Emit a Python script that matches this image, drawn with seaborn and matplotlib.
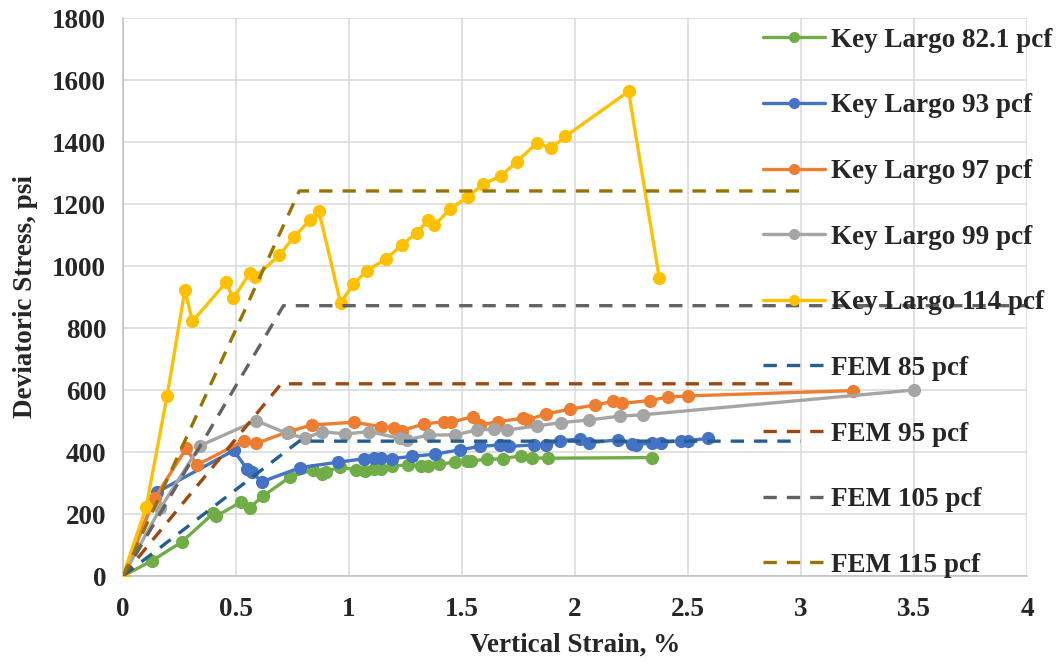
import numpy as np
import pandas as pd
import matplotlib
matplotlib.use("Agg")
import matplotlib.pyplot as plt
from matplotlib.ticker import FuncFormatter, MultipleLocator
import seaborn as sns

# ---------------- data ----------------
kl82_x = [0, 0.13, 0.26, 0.40, 0.41, 0.52, 0.56, 0.62, 0.74, 0.84, 0.88, 0.90, 0.96,
          1.03, 1.07, 1.11, 1.14, 1.19, 1.26, 1.32, 1.35, 1.40, 1.47, 1.52, 1.54,
          1.61, 1.68, 1.76, 1.81, 1.88, 2.34]
kl82_y = [0, 50, 110, 202, 192, 238, 220, 258, 320, 342, 328, 337, 352,
          342, 340, 344, 344, 355, 358, 356, 356, 360, 368, 370, 372,
          376, 378, 388, 381, 380, 382]

kl93_x = [0, 0.15, 0.49, 0.55, 0.57, 0.615, 0.785, 0.95, 1.065, 1.11, 1.14, 1.19,
          1.28, 1.38, 1.49, 1.58, 1.67, 1.71, 1.82, 1.87, 1.935, 2.02, 2.06, 2.19,
          2.25, 2.27, 2.34, 2.38, 2.47, 2.50, 2.59]
kl93_y = [0, 270, 405, 344, 335, 304, 350, 367, 378, 380, 382, 379,
          386, 393, 407, 418, 423, 418, 423, 423, 437, 441, 430, 439,
          426, 423, 430, 430, 437, 437, 444]

kl97_x = [0, 0.14, 0.28, 0.327, 0.534, 0.59, 0.733, 0.836, 1.02, 1.14, 1.20, 1.234,
          1.33, 1.42, 1.45, 1.55, 1.58, 1.66, 1.77, 1.79, 1.87, 1.98, 2.09, 2.17,
          2.21, 2.33, 2.41, 2.50, 3.23]
kl97_y = [0, 251, 412, 358, 436, 428, 466, 487, 496, 482, 479, 469,
          490, 498, 496, 514, 487, 498, 509, 503, 523, 538, 552, 563,
          557, 566, 577, 581, 598]

kl99_x = [0, 0.165, 0.34, 0.59, 0.725, 0.807, 0.88, 0.984, 1.087, 1.227, 1.256,
          1.352, 1.47, 1.565, 1.64, 1.70, 1.83, 1.94, 2.06, 2.20, 2.30, 3.50]
kl99_y = [0, 218, 420, 501, 460, 444, 466, 458, 466, 444, 439,
          455, 455, 471, 473, 471, 484, 495, 503, 516, 520, 600]

kl114_x = [0, 0.103, 0.195, 0.274, 0.307, 0.456, 0.488, 0.563, 0.584, 0.69, 0.757,
           0.829, 0.867, 0.963, 1.018, 1.081, 1.164, 1.235, 1.30, 1.35, 1.377,
           1.448, 1.527, 1.594, 1.673, 1.744, 1.83, 1.894, 1.957, 2.237, 2.373]
kl114_y = [0, 224, 581, 923, 821, 947, 896, 979, 964, 1034, 1094,
           1149, 1176, 880, 942, 985, 1023, 1068, 1108, 1147, 1131,
           1184, 1224, 1264, 1291, 1337, 1396, 1380, 1418, 1563, 961]

fem85_x = [0, 0.78, 3.0]
fem85_y = [0, 435, 435]
fem95_x = [0, 0.70, 3.0]
fem95_y = [0, 620, 620]
fem105_x = [0, 0.71, 4.0]
fem105_y = [0, 872, 872]
fem115_x = [0, 0.78, 3.0]
fem115_y = [0, 1242, 1242]

measured = [
    ("Key Largo 82.1 pcf", kl82_x, kl82_y, "#70AD47"),
    ("Key Largo 93 pcf", kl93_x, kl93_y, "#4472C4"),
    ("Key Largo 97 pcf", kl97_x, kl97_y, "#ED7D31"),
    ("Key Largo 99 pcf", kl99_x, kl99_y, "#A5A5A5"),
    ("Key Largo 114 pcf", kl114_x, kl114_y, "#FFC000"),
]
fem = [
    ("FEM 85 pcf", fem85_x, fem85_y, "#255E91"),
    ("FEM 95 pcf", fem95_x, fem95_y, "#9E480E"),
    ("FEM 105 pcf", fem105_x, fem105_y, "#636363"),
    ("FEM 115 pcf", fem115_x, fem115_y, "#997300"),
]

# ---------------- style ----------------
sns.set_theme(style="whitegrid")
plt.rcParams["font.family"] = ["Liberation Serif", "DejaVu Serif"]
plt.rcParams["font.weight"] = "bold"

W, H = 1060, 664
fig = plt.figure(figsize=(W / 100, H / 100), dpi=100)
ax = fig.add_axes([123 / W, 1 - 576 / H, (1027 - 123) / W, (576 - 18) / H])

for name, xs, ys, col in measured:
    df = pd.DataFrame({"x": xs, "y": ys})
    sns.lineplot(data=df, x="x", y="y", ax=ax, sort=False, estimator=None,
                 color=col, linewidth=2.4, marker="o", markersize=9.5,
                 markeredgewidth=0, label=name, zorder=3)

for name, xs, ys, col in fem:
    df = pd.DataFrame({"x": xs, "y": ys})
    sns.lineplot(data=df, x="x", y="y", ax=ax, sort=False, estimator=None,
                 color=col, linewidth=2.4, label=name, zorder=4)
    ax.lines[-1].set_dashes((4.0, 3.0))

ax.set_xlim(0, 4)
ax.set_ylim(0, 1800)
ax.xaxis.set_major_locator(MultipleLocator(0.5))
ax.yaxis.set_major_locator(MultipleLocator(200))
ax.xaxis.set_major_formatter(FuncFormatter(lambda v, p: f"{v:g}"))
ax.yaxis.set_major_formatter(FuncFormatter(lambda v, p: f"{v:g}"))

ax.grid(True, color="#D9D9D9", linewidth=1.1)
ax.set_axisbelow(True)
for side in ["top", "right"]:
    ax.spines[side].set_visible(False)
for side in ["left", "bottom"]:
    ax.spines[side].set_color("#BFBFBF")
    ax.spines[side].set_linewidth(1.1)
ax.set_facecolor("white")

ax.tick_params(axis="x", length=0, pad=15, labelsize=19.5)
ax.tick_params(axis="y", length=0, pad=12, labelsize=19.5)
for lab in ax.get_xticklabels() + ax.get_yticklabels():
    lab.set_fontweight("bold")

ax.set_xlabel("Vertical Strain, %", fontsize=19.5, fontweight="bold", labelpad=8)
ax.set_ylabel("Deviatoric Stress, psi", fontsize=19.5, fontweight="bold", labelpad=10)

handles, labels = ax.get_legend_handles_labels()
leg = ax.legend(handles, labels, loc="upper left",
                bbox_to_anchor=(752 / W, 1 - 17 / H), bbox_transform=fig.transFigure,
                frameon=False, fontsize=19.5, labelspacing=1.5,
                handlelength=2.3, handletextpad=0.2, borderaxespad=0)
for t in leg.get_texts():
    t.set_fontweight("bold")
for lh in leg.get_lines():
    lh.set_markersize(8)

fig.savefig("out.png", dpi=100, facecolor="white")
